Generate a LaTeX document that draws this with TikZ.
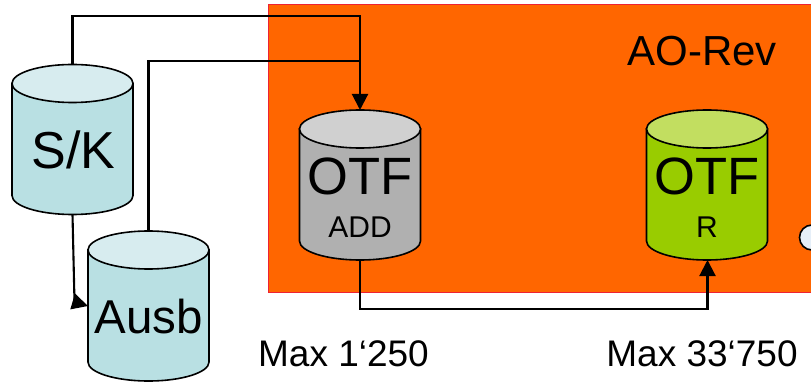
\documentclass[tikz,border=0pt]{standalone}
\usepackage{fontspec}
\setmainfont{Liberation Sans}
\usetikzlibrary{arrows.meta}
\definecolor{revOrange}{HTML}{FF6600}
\definecolor{revRed}{HTML}{EE2233}
\definecolor{iceBody}{HTML}{B9E0E3}
\definecolor{iceTop}{HTML}{D7ECEF}
\definecolor{addBody}{HTML}{B0B0B0}
\definecolor{addTop}{HTML}{D0D0D0}
\definecolor{limeBody}{HTML}{99CC00}
\definecolor{limeTop}{HTML}{C2DE60}
\definecolor{dotFill}{HTML}{E6EFF8}
% name, position, body colour, top colour
\newcommand\drum[4]{%
\node[drumframe] (#1) at (#2) {};
\filldraw[drumline, fill=#3] (#1.north west) ++(0pt,-19pt) -- ++(0pt,-112pt)
  arc[start angle=180, end angle=360, x radius=60.5pt, y radius=19pt] -- ++(0pt,112pt) -- cycle;
\filldraw[drumline, fill=#4] (#1.north) ++(0pt,-19pt) ellipse[x radius=60.5pt, y radius=19pt];
}
\newcommand\bigtext[1]{\fontsize{#1}{#1}\selectfont}
\tikzset{
  drumframe/.style={minimum width=121pt, minimum height=150pt, inner sep=0pt, outer sep=0pt},
  drumline/.style={draw=black, line width=1.6pt},
  wire/.style={draw=black, line width=2.1pt},
  wirearrow/.style={wire, -{Triangle[length=16pt,width=16pt]}},
  plainlabel/.style={inner sep=0pt, outer sep=0pt, text=black}
}
\begin{document}
\begin{tikzpicture}[x=1pt,y=-1pt]
	\clip (0,0) rectangle (811,382);

	% box
	\node[draw=revRed, fill=revOrange, line width=1.4pt, anchor=north west,
	  minimum width=560pt, minimum height=288pt, inner sep=0pt] (rev) at (268,4) {};
	\node[plainlabel] (revtext) at (702,51) {\bigtext{42}AO-Rev};

	% drums
	\drum{sk}{72.5,139.5}{iceBody}{iceTop}
	\drum{ausb}{148.5,306}{iceBody}{iceTop}
	\drum{add}{360,185}{addBody}{addTop}
	\drum{otfr}{707,185}{limeBody}{limeTop}

	\node[plainlabel] (sktext) at (73.5,150) {\bigtext{52}S/K};
	\node[plainlabel] (ausbtext) at (148.5,317) {\bigtext{47.5}Ausb};
	\node[plainlabel] (addotf) at (360,176) {\bigtext{52.5}OTF};
	\node[plainlabel] (addsub) at (360,227) {\bigtext{30}ADD};
	\node[plainlabel] (rotf) at (707,176) {\bigtext{52.5}OTF};
	\node[plainlabel] (rsub) at (707,227) {\bigtext{30}R};

	\node[draw=black, fill=dotFill, circle, line width=1.6pt, minimum size=25pt, inner sep=0pt] (dot) at (812,237.5) {};

	% connectors
	\coordinate (skup) at (72.5,16);
	\coordinate (addup) at (360,16);
	\coordinate (ausbup) at (148.5,61);
	\coordinate (addjoin) at (360,61);
	\coordinate (kink) at (74.5,302);
	\coordinate (addlow) at (360,309);
	\coordinate (rlow) at (707.5,309);
	\coordinate (ausbin) at (88,306);

	\draw[wirearrow] (sk.north) -- (skup) -- (addup) -- (add.north);
	\draw[wire] (ausb.north) -- (ausbup) -- (addjoin);
	\draw[wire] (sk.south) -- (kink);
	\draw[wirearrow] (kink) -- (ausbin);
	\draw[wirearrow] (add.south) -- (addlow) -- (rlow) -- (otfr.south -| rlow);

	% limits
	\node[plainlabel] (addmax) at (343.5,354) {\bigtext{37}Max 1‘250};
	\node[plainlabel] (rmax) at (702,354) {\bigtext{37}Max 33‘750};
\end{tikzpicture}
\end{document}
